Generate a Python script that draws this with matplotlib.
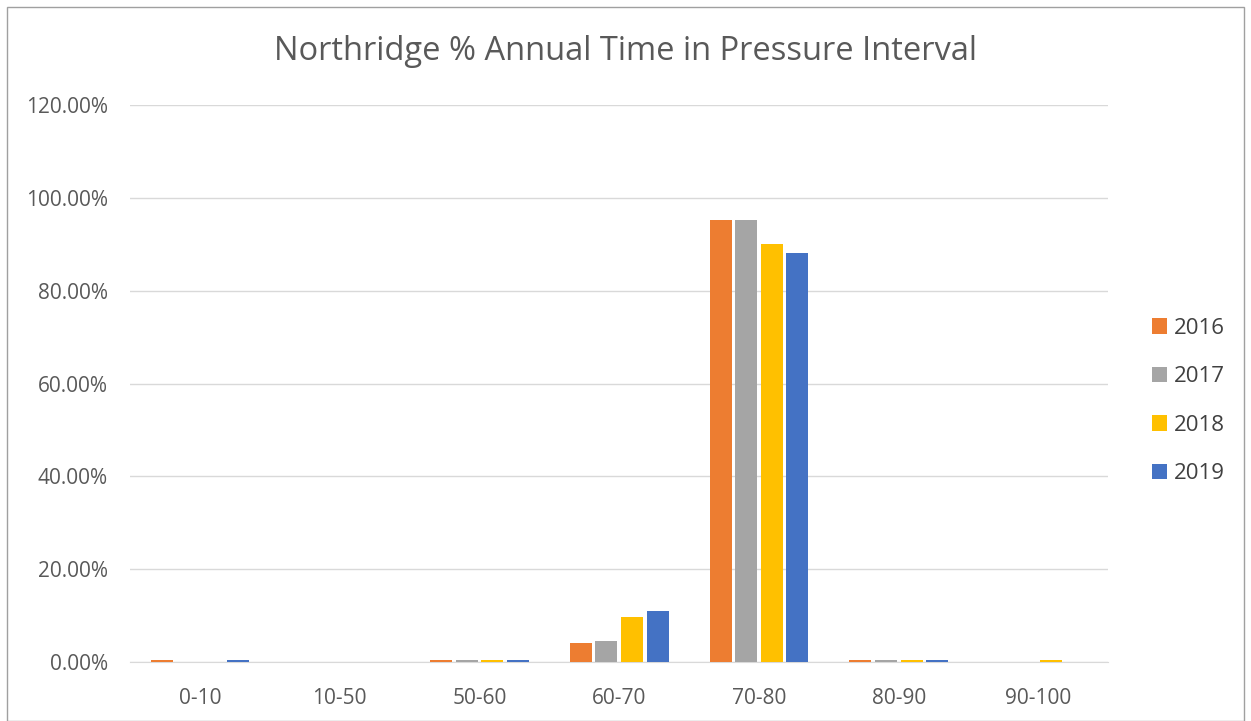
import numpy as np
import matplotlib
matplotlib.use("Agg")
import matplotlib.pyplot as plt
from matplotlib.patches import Rectangle
from matplotlib.ticker import FuncFormatter

intervals = ['0-10', '10-50', '50-60', '60-70', '70-80', '80-90', '90-100']
years = ['2016', '2017', '2018', '2019']
pct_2016 = [0.4, 0.0, 0.4, 4.1, 95.3, 0.4, 0.0]
pct_2017 = [0.0, 0.0, 0.4, 4.5, 95.3, 0.4, 0.0]
pct_2018 = [0.0, 0.0, 0.4, 9.7, 90.1, 0.4, 0.4]
pct_2019 = [0.4, 0.0, 0.4, 11.0, 88.1, 0.4, 0.0]
colors = ['#ED7D31', '#A5A5A5', '#FFC000', '#4472C4']

plt.rcParams['font.family'] = ['Open Sans', 'DejaVu Sans']
text_color = '#595959'

fig = plt.figure(figsize=(12.51, 7.21), dpi=100)
ax = fig.add_axes([0.104, 0.082, 0.782, 0.772])

x = np.arange(len(intervals))
width = 0.157
pitch = 0.183
series = [pct_2016, pct_2017, pct_2018, pct_2019]
for i, (vals, yr, c) in enumerate(zip(series, years, colors)):
    offs = (i - 1.5) * pitch
    ax.bar(x + offs, np.array(vals) / 100.0, width, color=c, label=yr, zorder=3)

ax.set_xlim(-0.5, len(intervals) - 0.5)
ax.set_ylim(0, 1.2)
ax.set_yticks(np.arange(0, 1.21, 0.2))
ax.yaxis.set_major_formatter(FuncFormatter(lambda v, p: '%.2f%%' % (v * 100)))
ax.set_xticks(x)
ax.set_xticklabels(intervals)
ax.grid(axis='y', color='#d9d9d9', linewidth=1, zorder=0)
for s in ['top', 'right', 'left']:
    ax.spines[s].set_visible(False)
ax.spines['bottom'].set_color('#d9d9d9')
ax.tick_params(axis='both', length=0, labelsize=15, colors=text_color)
ax.tick_params(axis='y', pad=16)
ax.tick_params(axis='x', pad=19)

fig.text(0.5, 0.928, 'Northridge % Annual Time in Pressure Interval',
         ha='center', va='center', fontsize=23.5, color=text_color)

leg = ax.legend(loc='center left', bbox_to_anchor=(1152 / 1251, 1 - 401 / 721),
                bbox_transform=fig.transFigure, frameon=False,
                fontsize=16, handlelength=0.68, handleheight=0.68,
                labelspacing=1.24, handletextpad=0.3, borderpad=0,
                borderaxespad=0)
for t in leg.get_texts():
    t.set_color('#404040')

fig.patches.append(Rectangle((0.0056, 0.0), 0.9888, 0.99, transform=fig.transFigure,
                             fill=False, edgecolor='#a0a0a0', linewidth=1))

fig.savefig('out.png', dpi=100, facecolor='white')
